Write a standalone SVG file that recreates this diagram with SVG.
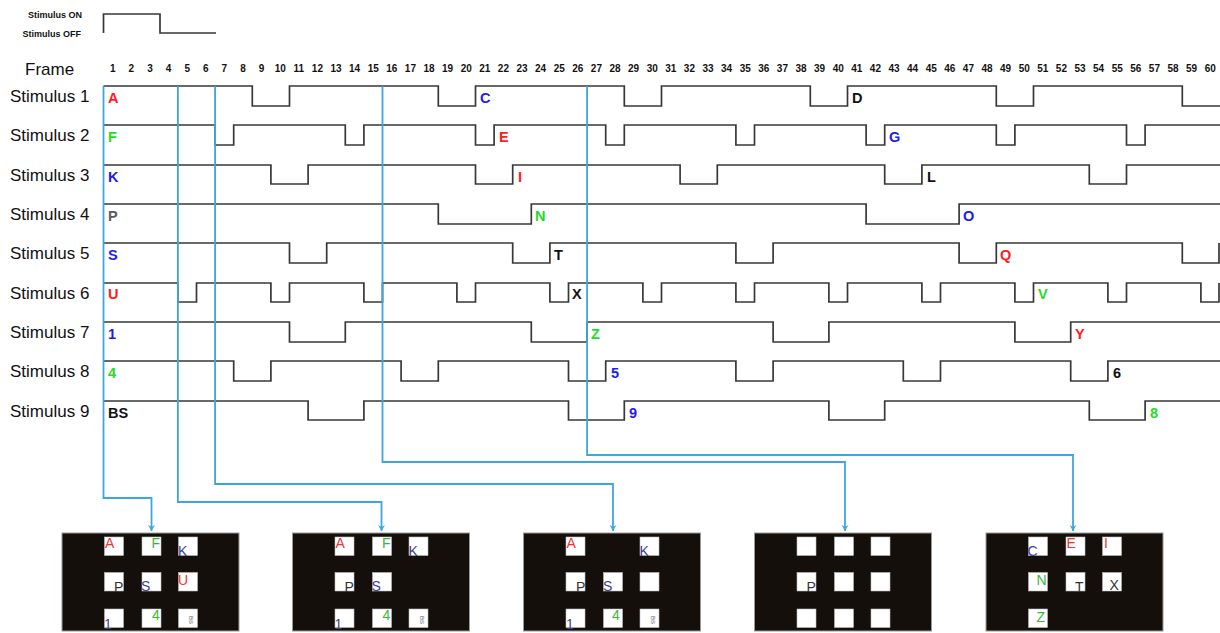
<svg xmlns="http://www.w3.org/2000/svg" width="1220" height="633" viewBox="0 0 1220 633">
<defs>
<style>
.wave{fill:none;stroke:#383838;stroke-width:1.7}
.conn{fill:none;stroke:#3ea6de;stroke-width:1.8}
.lg{font-family:"Liberation Sans",Arial,sans-serif;font-size:9px;font-weight:bold;fill:#111;text-anchor:end}
.fr{font-family:"Liberation Sans",Arial,sans-serif;font-size:10px;font-weight:bold;fill:#111;text-anchor:middle}
.st{font-family:"Liberation Sans",Arial,sans-serif;font-size:17px;fill:#111}
.lb{font-family:"Liberation Sans",Arial,sans-serif;font-size:14.5px;font-weight:bold}
.pl{font-family:"Liberation Sans",Arial,sans-serif;font-size:14px}
.r{fill:#ff1c1c}.b{fill:#1c1cf0}.g{fill:#22dd22}.k{fill:#111}.gy{fill:#5a5a5a}
.pr{fill:#ee3535}.pb{fill:#3c3e98}.pg{fill:#3cb53c}.pk{fill:#333}
.panel{fill:#140f0b;stroke:#9a9a9a;stroke-width:1}
.sq{fill:#fff;stroke:#bbb;stroke-width:0.6}
</style>
<marker id="ah" markerWidth="8" markerHeight="8" refX="4" refY="7" orient="0" markerUnits="userSpaceOnUse">
<path d="M0.5,1 L4,7 L7.5,1 L4,3 Z" fill="#3ea6de"/>
</marker>
<g id="sqset">
</g>
</defs>
<rect width="1220" height="633" fill="#fff"/>

<g id="legend">
<text class="lg" x="82" y="17.5">Stimulus ON</text>
<text class="lg" x="81" y="37">Stimulus OFF</text>
<path class="wave" d="M103.5 33 V14 H160 V33 H216"/>
</g>

<g id="frames">
<text x="25" y="75" font-family="Liberation Sans,Arial,sans-serif" font-size="17" fill="#111">Frame</text>
<text class="fr" x="112.8" y="72">1</text><text class="fr" x="131.4" y="72">2</text><text class="fr" x="150" y="72">3</text><text class="fr" x="168.6" y="72">4</text><text class="fr" x="187.2" y="72">5</text><text class="fr" x="205.8" y="72">6</text><text class="fr" x="224.4" y="72">7</text><text class="fr" x="243" y="72">8</text><text class="fr" x="261.6" y="72">9</text><text class="fr" x="280.2" y="72">10</text>
<text class="fr" x="298.8" y="72">11</text><text class="fr" x="317.4" y="72">12</text><text class="fr" x="336" y="72">13</text><text class="fr" x="354.6" y="72">14</text><text class="fr" x="373.2" y="72">15</text><text class="fr" x="391.8" y="72">16</text><text class="fr" x="410.4" y="72">17</text><text class="fr" x="429" y="72">18</text><text class="fr" x="447.6" y="72">19</text><text class="fr" x="466.2" y="72">20</text>
<text class="fr" x="484.8" y="72">21</text><text class="fr" x="503.4" y="72">22</text><text class="fr" x="522" y="72">23</text><text class="fr" x="540.6" y="72">24</text><text class="fr" x="559.2" y="72">25</text><text class="fr" x="577.8" y="72">26</text><text class="fr" x="596.4" y="72">27</text><text class="fr" x="615" y="72">28</text><text class="fr" x="633.6" y="72">29</text><text class="fr" x="652.2" y="72">30</text>
<text class="fr" x="670.8" y="72">31</text><text class="fr" x="689.4" y="72">32</text><text class="fr" x="708" y="72">33</text><text class="fr" x="726.6" y="72">34</text><text class="fr" x="745.2" y="72">35</text><text class="fr" x="763.8" y="72">36</text><text class="fr" x="782.4" y="72">37</text><text class="fr" x="801" y="72">38</text><text class="fr" x="819.6" y="72">39</text><text class="fr" x="838.2" y="72">40</text>
<text class="fr" x="856.8" y="72">41</text><text class="fr" x="875.4" y="72">42</text><text class="fr" x="894" y="72">43</text><text class="fr" x="912.6" y="72">44</text><text class="fr" x="931.2" y="72">45</text><text class="fr" x="949.8" y="72">46</text><text class="fr" x="968.4" y="72">47</text><text class="fr" x="987" y="72">48</text><text class="fr" x="1005.6" y="72">49</text><text class="fr" x="1024.2" y="72">50</text>
<text class="fr" x="1042.8" y="72">51</text><text class="fr" x="1061.4" y="72">52</text><text class="fr" x="1080" y="72">53</text><text class="fr" x="1098.6" y="72">54</text><text class="fr" x="1117.2" y="72">55</text><text class="fr" x="1135.8" y="72">56</text><text class="fr" x="1154.4" y="72">57</text><text class="fr" x="1173" y="72">58</text><text class="fr" x="1191.6" y="72">59</text><text class="fr" x="1210.2" y="72">60</text>
</g>

<g id="stim1">
<text class="st" x="10" y="102">Stimulus 1</text>
<path class="wave" d="M103.5 86 H252.3 V106 H289.5 V86 H438.3 V106 H475.5 V86 H624.3 V106 H661.5 V86 H810.3 V106 H847.5 V86 H996.3 V106 H1033.5 V86 H1182.3 V106 H1220"/>
<text class="lb r" x="108" y="103">A</text><text class="lb b" x="480" y="103">C</text><text class="lb k" x="852" y="103">D</text>
</g>
<g id="stim2">
<text class="st" x="10" y="141">Stimulus 2</text>
<path class="wave" d="M103.5 125 H215.1 V145 H233.7 V125 H345.3 V145 H363.9 V125 H475.5 V145 H494.1 V125 H605.7 V145 H624.3 V125 H735.9 V145 H754.5 V125 H866.1 V145 H884.7 V125 H996.3 V145 H1014.9 V125 H1126.5 V145 H1145.1 V125 H1220"/>
<text class="lb g" x="108" y="142">F</text><text class="lb r" x="499" y="142">E</text><text class="lb b" x="889" y="142">G</text>
</g>
<g id="stim3">
<text class="st" x="10" y="181">Stimulus 3</text>
<path class="wave" d="M103.5 165 H270.9 V184 H308.1 V165 H475.5 V184 H512.7 V165 H680.1 V184 H717.3 V165 H884.7 V184 H921.9 V165 H1089.3 V184 H1126.5 V165 H1220"/>
<text class="lb b" x="108" y="182">K</text><text class="lb r" x="518" y="182">I</text><text class="lb k" x="927" y="182">L</text>
</g>
<g id="stim4">
<text class="st" x="10" y="220">Stimulus 4</text>
<path class="wave" d="M103.5 204 H438.3 V224 H531.3 V204 H866.1 V224 H959.1 V204 H1220"/>
<text class="lb gy" x="108" y="221">P</text><text class="lb g" x="535" y="221">N</text><text class="lb b" x="963" y="221">O</text>
</g>
<g id="stim5">
<text class="st" x="10" y="259">Stimulus 5</text>
<path class="wave" d="M103.5 243 H289.5 V263 H326.7 V243 H512.7 V263 H549.9 V243 H735.9 V263 H773.1 V243 H959.1 V263 H996.3 V243 H1182.3 V263 H1219 V243"/>
<text class="lb b" x="108" y="260">S</text><text class="lb k" x="554" y="260">T</text><text class="lb r" x="1000" y="260">Q</text>
</g>
<g id="stim6">
<text class="st" x="10" y="299">Stimulus 6</text>
<path class="wave" d="M103.5 283 H177.9 V302 H196.5 V283 H270.9 V302 H289.5 V283 H363.9 V302 H382.5 V283 H456.9 V302 H475.5 V283 H549.9 V302 H568.5 V283 H642.9 V302 H661.5 V283 H735.9 V302 H754.5 V283 H828.9 V302 H847.5 V283 H921.9 V302 H940.5 V283 H1014.9 V302 H1033.5 V283 H1107.9 V302 H1126.5 V283 H1200.9 V302 H1219 V283"/>
<text class="lb r" x="108" y="299">U</text><text class="lb k" x="572" y="299">X</text><text class="lb g" x="1038" y="299">V</text>
</g>
<g id="stim7">
<text class="st" x="10" y="338">Stimulus 7</text>
<path class="wave" d="M103.5 322 H289.5 V342 H345.3 V322 H531.3 V342 H587.1 V322 H773.1 V342 H828.9 V322 H1014.9 V342 H1070.7 V322 H1220"/>
<text class="lb b" x="108" y="339">1</text><text class="lb g" x="591" y="339">Z</text><text class="lb r" x="1075" y="339">Y</text>
</g>
<g id="stim8">
<text class="st" x="10" y="377">Stimulus 8</text>
<path class="wave" d="M103.5 361 H233.7 V381 H270.9 V361 H401.1 V381 H438.3 V361 H568.5 V381 H605.7 V361 H735.9 V381 H773.1 V361 H903.3 V381 H940.5 V361 H1070.7 V381 H1107.9 V361 H1220"/>
<text class="lb g" x="108" y="378">4</text><text class="lb b" x="611" y="378">5</text><text class="lb k" x="1113" y="378" font-weight="normal">6</text>
</g>
<g id="stim9">
<text class="st" x="10" y="417">Stimulus 9</text>
<path class="wave" d="M103.5 401 H308.1 V420 H363.9 V401 H568.5 V420 H624.3 V401 H828.9 V420 H884.7 V401 H1089.3 V420 H1145.1 V401 H1220"/>
<text class="lb k" x="108" y="418">BS</text><text class="lb b" x="629" y="418">9</text><text class="lb g" x="1150" y="418">8</text>
</g>

<g id="connectors">
<path class="conn" d="M103.5 86 V498 H151.5 V531" marker-end="url(#ah)"/>
<path class="conn" d="M177.9 86 V502 H381.5 V531" marker-end="url(#ah)"/>
<path class="conn" d="M215.1 86 V484 H613 V531" marker-end="url(#ah)"/>
<path class="conn" d="M382.5 86 V462 H845 V531" marker-end="url(#ah)"/>
<path class="conn" d="M587.1 86 V455 H1073 V531" marker-end="url(#ah)"/>
</g>

<g id="panel1">
<rect class="panel" x="62" y="533" width="177" height="98"/>
<rect class="sq" x="104.5" y="537" width="19" height="18.5"/><rect class="sq" x="142" y="537" width="19" height="18.5"/><rect class="sq" x="178.5" y="537" width="19" height="18.5"/>
<rect class="sq" x="104.5" y="572.5" width="19" height="18.5"/><rect class="sq" x="142" y="572.5" width="19" height="18.5"/><rect class="sq" x="178.5" y="572.5" width="19" height="18.5"/>
<rect class="sq" x="104.5" y="609" width="19" height="18.5"/><rect class="sq" x="142" y="609" width="19" height="18.5"/><rect class="sq" x="178.5" y="609" width="19" height="18.5"/>
<text class="pl pr" x="105" y="548">A</text><text class="pl pg" x="151.5" y="548">F</text><text class="pl pb" x="178" y="556">K</text>
<text class="pl pk" x="114" y="592">P</text><text class="pl pb" x="141" y="591">S</text><text class="pl pr" x="178" y="585">U</text>
<text class="pl pb" x="104" y="629">1</text><text class="pl pg" x="152" y="620">4</text>
<text x="189" y="616" font-family="Liberation Sans,Arial,sans-serif" font-size="6" fill="#555" transform="rotate(90 189 616)">BS</text>
</g>
<g id="panel2">
<rect class="panel" x="292.5" y="533" width="177" height="98"/>
<rect class="sq" x="335" y="537" width="19" height="18.5"/><rect class="sq" x="372.5" y="537" width="19" height="18.5"/><rect class="sq" x="409" y="537" width="19" height="18.5"/>
<rect class="sq" x="335" y="572.5" width="19" height="18.5"/><rect class="sq" x="372.5" y="572.5" width="19" height="18.5"/>
<rect class="sq" x="335" y="609" width="19" height="18.5"/><rect class="sq" x="372.5" y="609" width="19" height="18.5"/><rect class="sq" x="409" y="609" width="19" height="18.5"/>
<text class="pl pr" x="335.5" y="548">A</text><text class="pl pg" x="382" y="548">F</text><text class="pl pb" x="408.5" y="556">K</text>
<text class="pl pk" x="344.5" y="592">P</text><text class="pl pb" x="371.5" y="591">S</text>
<text class="pl pb" x="334.5" y="629">1</text><text class="pl pg" x="382.5" y="620">4</text>
<text x="419.5" y="616" font-family="Liberation Sans,Arial,sans-serif" font-size="6" fill="#555" transform="rotate(90 419.5 616)">BS</text>
</g>
<g id="panel3">
<rect class="panel" x="523.5" y="533" width="177" height="98"/>
<rect class="sq" x="566" y="537" width="19" height="18.5"/><rect class="sq" x="640" y="537" width="19" height="18.5"/>
<rect class="sq" x="566" y="572.5" width="19" height="18.5"/><rect class="sq" x="603.5" y="572.5" width="19" height="18.5"/><rect class="sq" x="640" y="572.5" width="19" height="18.5"/>
<rect class="sq" x="566" y="609" width="19" height="18.5"/><rect class="sq" x="603.5" y="609" width="19" height="18.5"/><rect class="sq" x="640" y="609" width="19" height="18.5"/>
<text class="pl pr" x="566.5" y="548">A</text><text class="pl pb" x="639.5" y="556">K</text>
<text class="pl pk" x="576" y="592">P</text><text class="pl pb" x="603" y="591">S</text>
<text class="pl pb" x="566" y="629">1</text><text class="pl pg" x="612" y="620">4</text>
<text x="650.5" y="616" font-family="Liberation Sans,Arial,sans-serif" font-size="6" fill="#555" transform="rotate(90 650.5 616)">BS</text>
</g>
<g id="panel4">
<rect class="panel" x="754.5" y="533" width="177" height="98"/>
<rect class="sq" x="797" y="537" width="19" height="18.5"/><rect class="sq" x="834.5" y="537" width="19" height="18.5"/><rect class="sq" x="871" y="537" width="19" height="18.5"/>
<rect class="sq" x="797" y="572.5" width="19" height="18.5"/><rect class="sq" x="834.5" y="572.5" width="19" height="18.5"/><rect class="sq" x="871" y="572.5" width="19" height="18.5"/>
<rect class="sq" x="797" y="609" width="19" height="18.5"/><rect class="sq" x="834.5" y="609" width="19" height="18.5"/><rect class="sq" x="871" y="609" width="19" height="18.5"/>
<text class="pl pk" x="806.5" y="592">P</text>
</g>
<g id="panel5">
<rect class="panel" x="986" y="533" width="177" height="98"/>
<rect class="sq" x="1028.5" y="537" width="19" height="18.5"/><rect class="sq" x="1066" y="537" width="19" height="18.5"/><rect class="sq" x="1102.5" y="537" width="19" height="18.5"/>
<rect class="sq" x="1028.5" y="572.5" width="19" height="18.5"/><rect class="sq" x="1066" y="572.5" width="19" height="18.5"/><rect class="sq" x="1102.5" y="572.5" width="19" height="18.5"/>
<rect class="sq" x="1028.5" y="609" width="19" height="18.5"/>
<text class="pl pb" x="1027.5" y="556">C</text><text class="pl pr" x="1066.5" y="548">E</text><text class="pl pr" x="1104" y="548">I</text>
<text class="pl pg" x="1036.5" y="585">N</text><text class="pl pk" x="1075" y="592">T</text><text class="pl pk" x="1109.5" y="590">X</text>
<text class="pl pg" x="1036.5" y="622">Z</text>
</g>
</svg>
